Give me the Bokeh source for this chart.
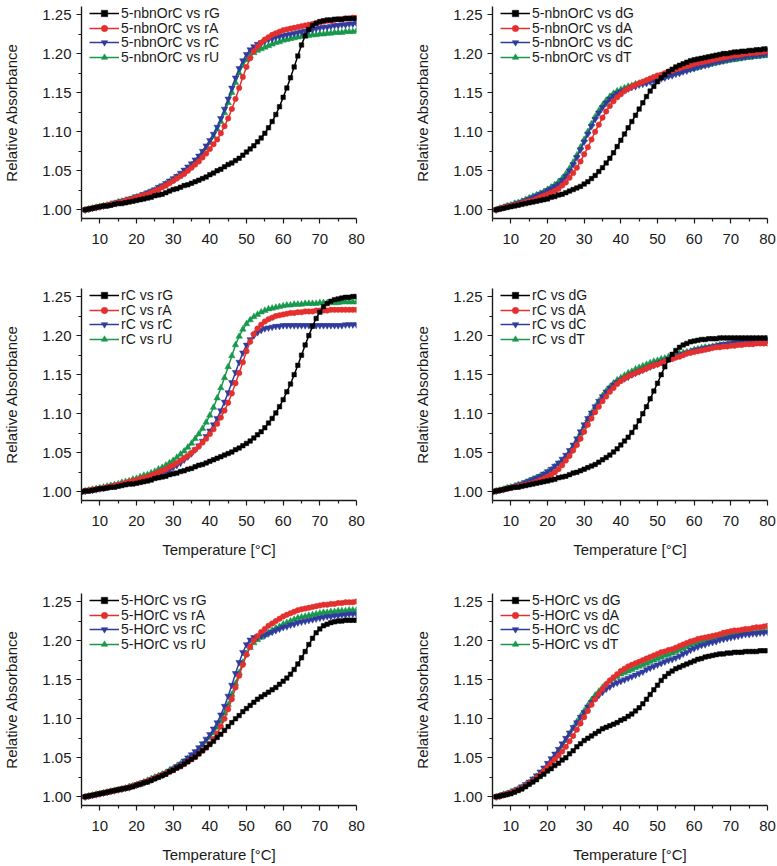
from bokeh.plotting import figure
from bokeh.layouts import column, row
from bokeh.models import Range1d, FixedTicker, NumeralTickFormatter, Legend, LegendItem
from bokeh.embed import file_html
from bokeh.resources import INLINE

# ---------------- data ----------------
T_A = list(range(6, 81))   # temperature grid (°C), 5-nbnOrC and 5-HOrC panels
T_C = list(range(5, 81))   # temperature grid (°C), rC panels

# Panel A: 5-nbnOrC vs RNA
nbn_rG = [1.000,1.001,1.002,1.003,1.004,1.005,1.005,1.006,1.007,1.008,1.008,1.009,1.010,1.011,1.012,1.013,1.014,1.015,1.016,1.018,
          1.019,1.020,1.022,1.024,1.026,1.027,1.029,1.031,1.032,1.034,1.036,1.038,1.040,1.042,1.045,1.047,1.050,1.052,1.055,1.058,
          1.060,1.063,1.066,1.070,1.074,1.078,1.082,1.087,1.092,1.098,1.105,1.113,1.122,1.132,1.144,1.156,1.169,1.183,1.197,1.211,
          1.223,1.231,1.236,1.239,1.241,1.242,1.243,1.243,1.244,1.244,1.244,1.245,1.245,1.245,1.245]
nbn_rA = [1.000,1.001,1.002,1.003,1.004,1.005,1.006,1.007,1.008,1.009,1.010,1.012,1.013,1.014,1.016,1.017,1.019,1.020,1.022,1.024,
          1.026,1.029,1.031,1.034,1.037,1.040,1.043,1.046,1.050,1.054,1.058,1.062,1.067,1.072,1.078,1.084,1.090,1.098,1.107,1.117,
          1.129,1.142,1.156,1.170,1.183,1.194,1.203,1.209,1.214,1.218,1.221,1.224,1.226,1.228,1.230,1.231,1.232,1.233,1.234,1.235,
          1.236,1.237,1.238,1.239,1.240,1.241,1.242,1.242,1.243,1.244,1.244,1.245,1.245,1.246,1.246]
nbn_rC = [1.000,1.001,1.002,1.003,1.004,1.005,1.006,1.007,1.009,1.010,1.011,1.012,1.014,1.015,1.017,1.018,1.020,1.022,1.024,1.026,
          1.029,1.031,1.034,1.037,1.040,1.043,1.047,1.051,1.055,1.059,1.064,1.069,1.075,1.082,1.089,1.097,1.106,1.117,1.129,1.142,
          1.156,1.169,1.181,1.191,1.199,1.205,1.209,1.212,1.214,1.216,1.218,1.219,1.221,1.222,1.223,1.224,1.225,1.226,1.227,1.228,
          1.229,1.230,1.231,1.232,1.233,1.234,1.234,1.235,1.236,1.236,1.237,1.237,1.238,1.238,1.239]
nbn_rU = [1.000,1.001,1.002,1.003,1.004,1.005,1.006,1.007,1.008,1.010,1.011,1.012,1.013,1.015,1.016,1.018,1.019,1.021,1.023,1.025,
          1.028,1.030,1.033,1.036,1.039,1.042,1.045,1.049,1.053,1.057,1.062,1.067,1.073,1.079,1.086,1.094,1.103,1.113,1.124,1.137,
          1.150,1.163,1.175,1.185,1.192,1.197,1.201,1.204,1.206,1.208,1.210,1.212,1.214,1.215,1.217,1.218,1.219,1.220,1.221,1.222,
          1.222,1.223,1.224,1.224,1.225,1.225,1.226,1.226,1.227,1.227,1.227,1.228,1.228,1.228,1.229]

# Panel B: 5-nbnOrC vs DNA
nbn_dG = [1.000,1.001,1.002,1.003,1.004,1.005,1.006,1.007,1.008,1.009,1.010,1.011,1.012,1.013,1.014,1.016,1.017,1.019,1.020,1.022,
          1.024,1.026,1.028,1.030,1.033,1.036,1.040,1.044,1.049,1.054,1.060,1.066,1.073,1.081,1.089,1.097,1.105,1.113,1.121,1.129,
          1.137,1.145,1.152,1.158,1.164,1.169,1.173,1.177,1.180,1.183,1.185,1.187,1.189,1.191,1.192,1.193,1.194,1.195,1.196,1.197,
          1.198,1.199,1.200,1.200,1.201,1.202,1.202,1.203,1.203,1.204,1.204,1.205,1.205,1.206,1.206]
nbn_dA = [1.000,1.001,1.003,1.004,1.005,1.006,1.007,1.008,1.010,1.011,1.012,1.014,1.016,1.018,1.020,1.022,1.024,1.027,1.031,1.035,
          1.041,1.047,1.054,1.062,1.071,1.080,1.090,1.100,1.109,1.118,1.126,1.133,1.139,1.144,1.148,1.152,1.155,1.158,1.160,1.162,
          1.164,1.166,1.168,1.170,1.172,1.173,1.175,1.177,1.178,1.180,1.181,1.183,1.184,1.185,1.187,1.188,1.189,1.190,1.191,1.192,
          1.193,1.194,1.195,1.196,1.197,1.198,1.198,1.199,1.200,1.200,1.201,1.201,1.202,1.202,1.203]
nbn_dC = [1.000,1.002,1.003,1.005,1.006,1.007,1.009,1.010,1.012,1.014,1.016,1.018,1.020,1.022,1.025,1.027,1.030,1.033,1.038,1.043,
          1.050,1.058,1.067,1.077,1.087,1.097,1.107,1.116,1.124,1.131,1.137,1.142,1.146,1.149,1.151,1.153,1.155,1.157,1.158,1.160,
          1.161,1.162,1.164,1.165,1.166,1.168,1.169,1.171,1.172,1.174,1.175,1.177,1.178,1.180,1.181,1.183,1.184,1.185,1.186,1.188,
          1.189,1.190,1.191,1.192,1.193,1.194,1.195,1.195,1.196,1.197,1.197,1.198,1.198,1.199,1.199]
nbn_dT = [1.000,1.002,1.003,1.005,1.006,1.008,1.009,1.011,1.013,1.015,1.017,1.019,1.021,1.023,1.026,1.029,1.032,1.036,1.040,1.046,
          1.053,1.061,1.070,1.080,1.090,1.100,1.110,1.119,1.127,1.134,1.140,1.145,1.149,1.152,1.154,1.156,1.158,1.159,1.161,1.162,
          1.163,1.165,1.166,1.167,1.168,1.170,1.171,1.172,1.174,1.175,1.176,1.178,1.179,1.180,1.181,1.182,1.184,1.185,1.186,1.187,
          1.188,1.189,1.190,1.191,1.192,1.192,1.193,1.194,1.195,1.195,1.196,1.196,1.197,1.197,1.198]

# Panel C: rC vs RNA
rc_rG = [1.000,1.001,1.001,1.002,1.003,1.004,1.004,1.005,1.006,1.006,1.007,1.008,1.009,1.010,1.010,1.011,1.012,1.013,1.014,1.015,
         1.017,1.018,1.019,1.020,1.022,1.023,1.024,1.026,1.027,1.029,1.030,1.032,1.034,1.035,1.037,1.039,1.041,1.043,1.045,1.047,
         1.049,1.051,1.054,1.056,1.059,1.062,1.065,1.069,1.073,1.077,1.082,1.088,1.094,1.101,1.109,1.118,1.128,1.138,1.150,1.162,
         1.175,1.188,1.200,1.212,1.222,1.230,1.237,1.241,1.244,1.246,1.247,1.248,1.249,1.249,1.250,1.250]
rc_rA = [1.000,1.001,1.002,1.003,1.003,1.004,1.005,1.006,1.007,1.008,1.009,1.010,1.011,1.013,1.014,1.015,1.016,1.018,1.019,1.021,
         1.023,1.025,1.027,1.029,1.032,1.034,1.037,1.040,1.043,1.046,1.050,1.054,1.058,1.063,1.068,1.074,1.080,1.087,1.095,1.104,
         1.114,1.126,1.139,1.152,1.166,1.180,1.192,1.202,1.209,1.214,1.218,1.221,1.223,1.225,1.226,1.227,1.228,1.229,1.229,1.230,
         1.230,1.231,1.231,1.231,1.232,1.232,1.232,1.232,1.233,1.233,1.233,1.233,1.233,1.233,1.233,1.233]
rc_rC = [1.000,1.001,1.002,1.002,1.003,1.004,1.005,1.006,1.007,1.008,1.009,1.010,1.011,1.012,1.013,1.014,1.015,1.016,1.018,1.019,
         1.021,1.022,1.024,1.026,1.028,1.031,1.034,1.037,1.041,1.045,1.049,1.054,1.059,1.065,1.071,1.078,1.086,1.094,1.104,1.115,
         1.127,1.140,1.153,1.166,1.178,1.188,1.195,1.200,1.204,1.207,1.209,1.210,1.211,1.212,1.212,1.213,1.213,1.213,1.213,1.213,
         1.213,1.213,1.213,1.213,1.213,1.213,1.213,1.213,1.213,1.213,1.213,1.213,1.214,1.214,1.214,1.214]
rc_rU = [1.000,1.001,1.002,1.003,1.004,1.005,1.006,1.007,1.008,1.009,1.010,1.012,1.013,1.014,1.016,1.017,1.019,1.021,1.022,1.024,
         1.026,1.029,1.031,1.034,1.037,1.040,1.044,1.048,1.052,1.057,1.062,1.068,1.074,1.081,1.089,1.098,1.108,1.120,1.133,1.146,
         1.160,1.174,1.188,1.199,1.208,1.215,1.220,1.224,1.227,1.230,1.232,1.234,1.235,1.236,1.237,1.238,1.239,1.239,1.240,1.240,
         1.240,1.241,1.241,1.241,1.241,1.242,1.242,1.242,1.242,1.242,1.242,1.243,1.243,1.243,1.243,1.243]

# Panel D: rC vs DNA
rc_dG = [1.000,1.001,1.002,1.003,1.004,1.005,1.006,1.006,1.007,1.008,1.009,1.010,1.011,1.012,1.013,1.014,1.015,1.016,1.018,1.019,
         1.020,1.022,1.024,1.025,1.027,1.029,1.031,1.033,1.035,1.038,1.041,1.044,1.047,1.051,1.055,1.060,1.065,1.070,1.076,1.083,
         1.091,1.100,1.109,1.119,1.129,1.139,1.150,1.160,1.169,1.176,1.181,1.185,1.188,1.190,1.192,1.193,1.194,1.195,1.195,1.196,
         1.196,1.196,1.197,1.197,1.197,1.197,1.197,1.197,1.197,1.197,1.197,1.197,1.197,1.197,1.197,1.197]
rc_dA = [1.000,1.001,1.002,1.003,1.004,1.005,1.006,1.007,1.008,1.009,1.010,1.011,1.013,1.015,1.017,1.019,1.022,1.025,1.029,1.034,
         1.040,1.046,1.053,1.060,1.068,1.077,1.086,1.094,1.102,1.109,1.116,1.122,1.128,1.133,1.138,1.142,1.145,1.148,1.150,1.152,
         1.154,1.156,1.158,1.160,1.162,1.163,1.165,1.167,1.169,1.170,1.172,1.173,1.175,1.177,1.178,1.179,1.180,1.181,1.182,1.183,
         1.184,1.185,1.185,1.186,1.186,1.187,1.187,1.188,1.188,1.189,1.189,1.189,1.190,1.190,1.190,1.190]
rc_dC = [1.000,1.001,1.002,1.003,1.005,1.006,1.007,1.009,1.010,1.012,1.014,1.016,1.018,1.020,1.023,1.026,1.029,1.033,1.037,1.042,
         1.047,1.053,1.060,1.068,1.077,1.086,1.094,1.101,1.109,1.116,1.122,1.128,1.133,1.137,1.140,1.143,1.145,1.147,1.150,1.152,
         1.154,1.156,1.158,1.160,1.162,1.164,1.166,1.168,1.170,1.172,1.173,1.175,1.176,1.178,1.179,1.181,1.182,1.183,1.184,1.185,
         1.186,1.187,1.188,1.189,1.189,1.190,1.191,1.191,1.192,1.192,1.193,1.193,1.193,1.194,1.194,1.194]
rc_dT = [1.000,1.001,1.002,1.003,1.005,1.006,1.007,1.009,1.010,1.012,1.014,1.016,1.018,1.020,1.022,1.025,1.028,1.032,1.036,1.040,
         1.045,1.051,1.058,1.066,1.075,1.084,1.093,1.101,1.109,1.116,1.123,1.129,1.134,1.139,1.143,1.146,1.149,1.152,1.154,1.157,
         1.159,1.161,1.163,1.165,1.167,1.168,1.170,1.171,1.173,1.174,1.176,1.177,1.178,1.179,1.180,1.182,1.183,1.184,1.185,1.185,
         1.186,1.187,1.188,1.188,1.189,1.189,1.190,1.190,1.191,1.191,1.192,1.192,1.192,1.193,1.193,1.193]

# Panel E: 5-HOrC vs RNA
ho_rG = [1.000,1.001,1.002,1.003,1.004,1.005,1.006,1.007,1.008,1.009,1.010,1.011,1.012,1.013,1.015,1.016,1.018,1.019,1.021,1.023,
         1.025,1.027,1.029,1.032,1.034,1.037,1.039,1.042,1.045,1.048,1.051,1.055,1.059,1.063,1.067,1.071,1.076,1.080,1.085,1.090,
         1.095,1.100,1.104,1.109,1.113,1.117,1.121,1.125,1.128,1.131,1.134,1.137,1.140,1.144,1.148,1.152,1.157,1.163,1.170,1.178,
         1.186,1.195,1.203,1.210,1.215,1.219,1.221,1.223,1.224,1.225,1.225,1.226,1.226,1.226,1.226]
ho_rA = [1.000,1.001,1.002,1.003,1.004,1.005,1.006,1.007,1.008,1.009,1.010,1.011,1.012,1.014,1.015,1.017,1.018,1.020,1.022,1.024,
         1.026,1.028,1.030,1.032,1.034,1.037,1.039,1.042,1.045,1.048,1.051,1.055,1.059,1.063,1.068,1.074,1.081,1.090,1.100,1.112,
         1.125,1.140,1.155,1.169,1.182,1.192,1.200,1.206,1.211,1.215,1.219,1.222,1.225,1.228,1.231,1.233,1.235,1.237,1.239,1.240,
         1.241,1.242,1.243,1.244,1.245,1.246,1.246,1.247,1.247,1.248,1.248,1.249,1.249,1.249,1.250]
ho_rC = [1.000,1.001,1.002,1.003,1.004,1.005,1.006,1.007,1.008,1.009,1.010,1.011,1.012,1.014,1.015,1.017,1.018,1.020,1.022,1.024,
         1.026,1.028,1.030,1.033,1.036,1.039,1.042,1.046,1.050,1.054,1.058,1.063,1.068,1.074,1.080,1.087,1.095,1.105,1.116,1.129,
         1.143,1.158,1.172,1.185,1.195,1.201,1.204,1.205,1.206,1.207,1.209,1.211,1.213,1.215,1.217,1.218,1.220,1.221,1.223,1.224,
         1.225,1.226,1.227,1.228,1.229,1.230,1.231,1.231,1.232,1.232,1.233,1.233,1.234,1.234,1.234]
ho_rU = [1.000,1.001,1.002,1.003,1.004,1.005,1.006,1.007,1.008,1.009,1.010,1.011,1.013,1.014,1.015,1.017,1.019,1.021,1.023,1.025,
         1.027,1.029,1.031,1.034,1.036,1.039,1.042,1.045,1.049,1.052,1.056,1.061,1.066,1.071,1.076,1.082,1.089,1.097,1.107,1.118,
         1.131,1.145,1.159,1.172,1.183,1.191,1.197,1.201,1.204,1.207,1.210,1.213,1.216,1.218,1.221,1.223,1.225,1.227,1.229,1.230,
         1.231,1.232,1.233,1.234,1.235,1.236,1.236,1.237,1.237,1.238,1.238,1.238,1.239,1.239,1.239]

# Panel F: 5-HOrC vs DNA
ho_dG = [1.000,1.001,1.002,1.003,1.004,1.006,1.008,1.010,1.013,1.016,1.019,1.022,1.026,1.029,1.033,1.036,1.040,1.043,1.047,1.050,
         1.055,1.059,1.064,1.068,1.072,1.075,1.078,1.081,1.084,1.087,1.089,1.091,1.093,1.095,1.098,1.100,1.103,1.106,1.110,1.114,
         1.119,1.125,1.131,1.137,1.143,1.149,1.154,1.158,1.161,1.164,1.166,1.168,1.170,1.172,1.174,1.176,1.177,1.179,1.180,1.181,
         1.182,1.183,1.183,1.184,1.184,1.185,1.185,1.185,1.186,1.186,1.186,1.186,1.187,1.187,1.187]
ho_dA = [1.000,1.001,1.002,1.004,1.005,1.007,1.009,1.011,1.014,1.017,1.020,1.024,1.028,1.033,1.038,1.043,1.048,1.053,1.058,1.064,
         1.071,1.078,1.086,1.094,1.102,1.110,1.118,1.125,1.132,1.138,1.144,1.149,1.153,1.157,1.161,1.164,1.167,1.169,1.171,1.173,
         1.175,1.177,1.179,1.181,1.183,1.185,1.186,1.188,1.189,1.191,1.193,1.195,1.197,1.199,1.200,1.202,1.203,1.204,1.205,1.206,
         1.207,1.208,1.210,1.211,1.212,1.213,1.213,1.214,1.215,1.215,1.216,1.217,1.217,1.218,1.219]
ho_dC = [1.000,1.001,1.003,1.004,1.006,1.008,1.010,1.013,1.016,1.019,1.023,1.027,1.032,1.037,1.043,1.049,1.055,1.061,1.068,1.075,
         1.082,1.089,1.095,1.102,1.108,1.115,1.121,1.126,1.130,1.134,1.138,1.141,1.144,1.146,1.148,1.150,1.152,1.154,1.156,1.158,
         1.160,1.163,1.165,1.167,1.169,1.171,1.173,1.175,1.176,1.178,1.180,1.183,1.185,1.188,1.190,1.192,1.194,1.195,1.197,1.198,
         1.199,1.201,1.202,1.203,1.204,1.205,1.206,1.207,1.208,1.208,1.209,1.209,1.210,1.210,1.211]
ho_dT = [1.000,1.001,1.003,1.004,1.006,1.008,1.010,1.012,1.015,1.018,1.022,1.026,1.030,1.035,1.040,1.046,1.052,1.058,1.065,1.072,
         1.080,1.088,1.096,1.103,1.110,1.117,1.124,1.130,1.135,1.140,1.144,1.148,1.151,1.154,1.157,1.159,1.161,1.163,1.165,1.167,
         1.169,1.171,1.173,1.175,1.177,1.179,1.181,1.182,1.184,1.186,1.188,1.190,1.192,1.194,1.196,1.197,1.199,1.200,1.202,1.203,
         1.204,1.205,1.206,1.207,1.208,1.209,1.209,1.210,1.210,1.211,1.211,1.211,1.212,1.212,1.212]

X_TICKS = [10, 20, 30, 40, 50, 60, 70, 80]
X_MINOR = [5, 15, 25, 35, 45, 55, 65, 75]
Y_TICKS = [1.00, 1.05, 1.10, 1.15, 1.20, 1.25]
Y_MINOR = [1.025, 1.075, 1.125, 1.175, 1.225]

# ---------------- styling ----------------
FONT = "Liberation Sans"
TXT = "#1a1a1a"
COLORS = ["#000000", "#e3302f", "#2f3b9d", "#18984c"]
MARKERS = ["square", "circle", "inverted_triangle", "triangle"]
SIZES = [4.5, 5.5, 6.5, 6.5]
FRAME_H = 212
LEG_ROW_OFFSETS = [7.0, 21.5, 36.0, 50.5]   # px below frame top for each legend row centre
LEG_ITEM_H = 16


def panel(temps, series, labels, left_col, row_idx):
    borders = [(6, 32), (38, 60), (33, 60)][row_idx]
    p = figure(frame_width=275, frame_height=FRAME_H,
               x_range=Range1d(5, 80), y_range=Range1d(0.9889, 1.2603),
               output_backend="svg", toolbar_location=None,
               min_border_left=78 if left_col else 86,
               min_border_right=50 if left_col else 12,
               min_border_top=borders[0], min_border_bottom=borders[1])
    p.outline_line_color = None
    p.xgrid.visible = False
    p.ygrid.visible = False

    p.xaxis.ticker = FixedTicker(ticks=X_TICKS, minor_ticks=X_MINOR)
    p.yaxis.ticker = FixedTicker(ticks=Y_TICKS, minor_ticks=Y_MINOR)
    p.yaxis.formatter = NumeralTickFormatter(format="0.00")
    for ax in (p.xaxis[0], p.yaxis[0]):
        ax.axis_line_color = TXT
        ax.axis_line_width = 1.4
        ax.major_tick_line_color = TXT
        ax.minor_tick_line_color = TXT
        ax.major_tick_line_width = 1.2
        ax.minor_tick_line_width = 1.2
        ax.major_tick_in = 0
        ax.major_tick_out = 5
        ax.minor_tick_in = 0
        ax.minor_tick_out = 3
        ax.major_label_text_font = FONT
        ax.major_label_text_font_size = "15px"
        ax.major_label_text_color = TXT
        ax.axis_label_text_font = FONT
        ax.axis_label_text_font_size = "15px"
        ax.axis_label_text_font_style = "normal"
        ax.axis_label_text_color = TXT
    p.xaxis.major_label_standoff = 10
    p.yaxis.major_label_standoff = 5
    p.yaxis.axis_label = "Relative Absorbance"
    p.yaxis.axis_label_standoff = 19
    if row_idx > 0:
        p.xaxis.axis_label = "Temperature [°C]"
        p.xaxis.axis_label_standoff = 12

    rends = {}
    for i in reversed(range(4)):
        ln = p.line(temps, series[i], line_color=COLORS[i], line_width=1.5)
        sc = p.scatter(temps, series[i], marker=MARKERS[i], size=SIZES[i],
                       fill_color=COLORS[i], line_color=COLORS[i], line_width=0.5)
        rends[i] = [ln, sc]
    # one single-item legend per series, so the row pitch can be set exactly
    for i in range(4):
        y_bottom = FRAME_H - LEG_ROW_OFFSETS[i] - LEG_ITEM_H / 2
        leg = Legend(items=[LegendItem(label=labels[i], renderers=rends[i])],
                     location=(8, y_bottom), margin=0, padding=0,
                     spacing=0, glyph_width=30, glyph_height=LEG_ITEM_H,
                     label_height=LEG_ITEM_H, label_standoff=2,
                     label_text_font=FONT, label_text_font_size="14px",
                     label_text_color=TXT,
                     border_line_alpha=0, background_fill_alpha=0)
        p.add_layout(leg)
    return p


pA = panel(T_A, [nbn_rG, nbn_rA, nbn_rC, nbn_rU],
           ["5-nbnOrC vs rG", "5-nbnOrC vs rA", "5-nbnOrC vs rC", "5-nbnOrC vs rU"], True, 0)
pB = panel(T_A, [nbn_dG, nbn_dA, nbn_dC, nbn_dT],
           ["5-nbnOrC vs dG", "5-nbnOrC vs dA", "5-nbnOrC vs dC", "5-nbnOrC vs dT"], False, 0)
pC = panel(T_C, [rc_rG, rc_rA, rc_rC, rc_rU],
           ["rC vs rG", "rC vs rA", "rC vs rC", "rC vs rU"], True, 1)
pD = panel(T_C, [rc_dG, rc_dA, rc_dC, rc_dT],
           ["rC vs dG", "rC vs dA", "rC vs dC", "rC vs dT"], False, 1)
pE = panel(T_A, [ho_rG, ho_rA, ho_rC, ho_rU],
           ["5-HOrC vs rG", "5-HOrC vs rA", "5-HOrC vs rC", "5-HOrC vs rU"], True, 2)
pF = panel(T_A, [ho_dG, ho_dA, ho_dC, ho_dT],
           ["5-HOrC vs dG", "5-HOrC vs dA", "5-HOrC vs dC", "5-HOrC vs dT"], False, 2)

layout = column(row(pA, pB), row(pC, pD), row(pE, pF))
open("out.html", "w").write(file_html(layout, INLINE))
